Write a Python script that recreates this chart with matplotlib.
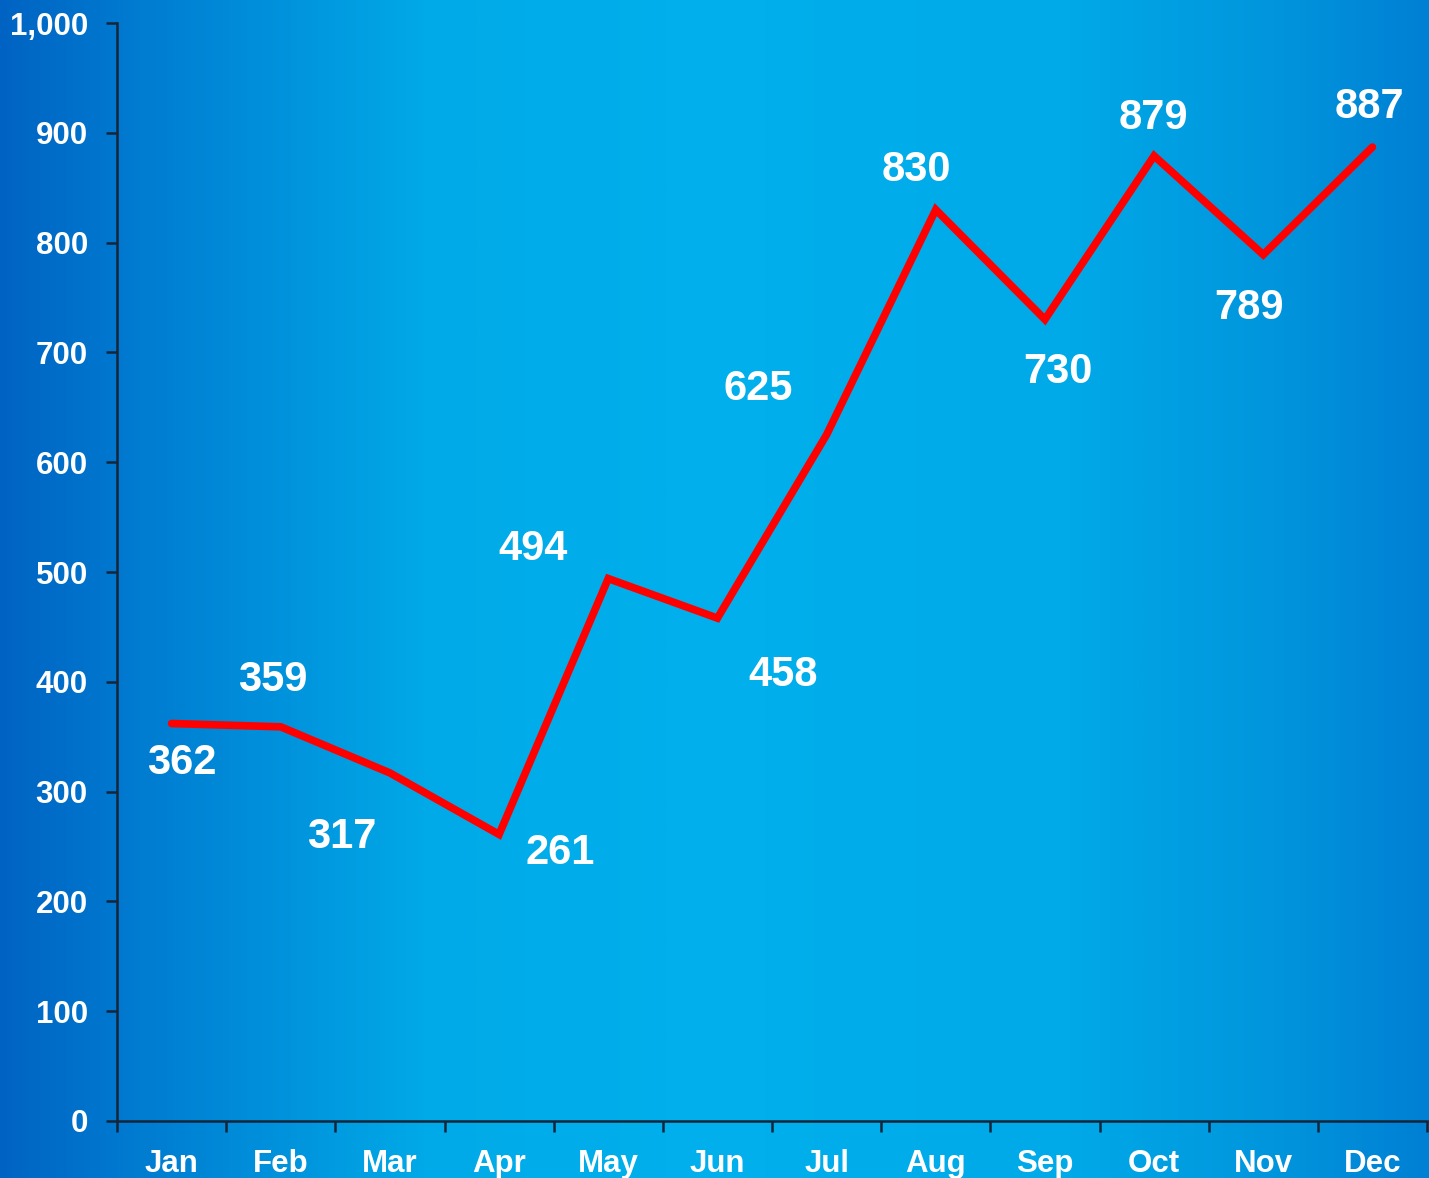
import numpy as np
import matplotlib
matplotlib.use("Agg")
import matplotlib.pyplot as plt
from matplotlib.colors import LinearSegmentedColormap

months = ["Jan", "Feb", "Mar", "Apr", "May", "Jun", "Jul", "Aug", "Sep", "Oct", "Nov", "Dec"]
values = [362, 359, 317, 261, 494, 458, 625, 830, 730, 879, 789, 887]
# label offsets from each point, in pixels
label_dx = [10, -8, -48, 61, -75, 66, -68, -19, 13, -1, -14, -3]
label_dy = [-39, 47, -64, -19, 30, -57, 46, 40, -53, 38, -53, 40]

plt.rcParams['font.family'] = ['Liberation Sans', 'DejaVu Sans']

fig = plt.figure(figsize=(14.29, 11.78), dpi=100)

# background gradient across whole figure
bg = fig.add_axes([0, 0, 1, 1], zorder=-10)
cmap = LinearSegmentedColormap.from_list("bg", [
    (0.0, "#0063c3"), (0.08, "#0078cf"), (0.3, "#00aae8"),
    (0.5, "#00b0ec"), (0.75, "#00a9e8"), (0.9, "#0094dc"), (1.0, "#0080d4")])
grad = np.linspace(0, 1, 512).reshape(1, -1)
bg.imshow(grad, aspect='auto', cmap=cmap, extent=[0, 1, 0, 1])
bg.axis('off')

ax = fig.add_axes([117 / 1429, 1 - 1121 / 1178, 1310 / 1429, 1098 / 1178])
ax.patch.set_alpha(0)

x = np.arange(len(months))
ax.plot(x, values, color='#ff0000', lw=5.5, solid_capstyle='round', solid_joinstyle='miter')

for i, v in enumerate(values):
    ax.annotate(str(v), (x[i], v), xytext=(label_dx[i], label_dy[i]),
                textcoords='offset pixels', ha='center', va='center',
                color='white', fontsize=30, fontweight='bold')

ax.set_xlim(-0.5, len(months) - 0.5)
ax.set_ylim(0, 1000)
ax.set_yticks(range(0, 1001, 100))
ax.set_yticklabels([f"{t:,}" for t in range(0, 1001, 100)])

ax.set_xticks(np.arange(-0.5, len(months), 1))
ax.set_xticklabels([])
ax.set_xticks(x, minor=True)
ax.set_xticklabels(months, minor=True)

for s in ['top', 'right']:
    ax.spines[s].set_visible(False)
for s in ['left', 'bottom']:
    ax.spines[s].set_color('#15253a')
    ax.spines[s].set_linewidth(1.8)

ax.tick_params(axis='y', colors='#15253a', length=8, width=1.8, pad=13,
               labelcolor='white', labelsize=22.5)
ax.tick_params(axis='x', which='major', colors='#15253a', length=8, width=1.8)
ax.tick_params(axis='x', which='minor', length=0, pad=20, labelcolor='white', labelsize=22.5)
for lab in ax.get_yticklabels() + ax.get_xticklabels(minor=True):
    lab.set_fontweight('bold')

fig.savefig("out.png", dpi=100)
